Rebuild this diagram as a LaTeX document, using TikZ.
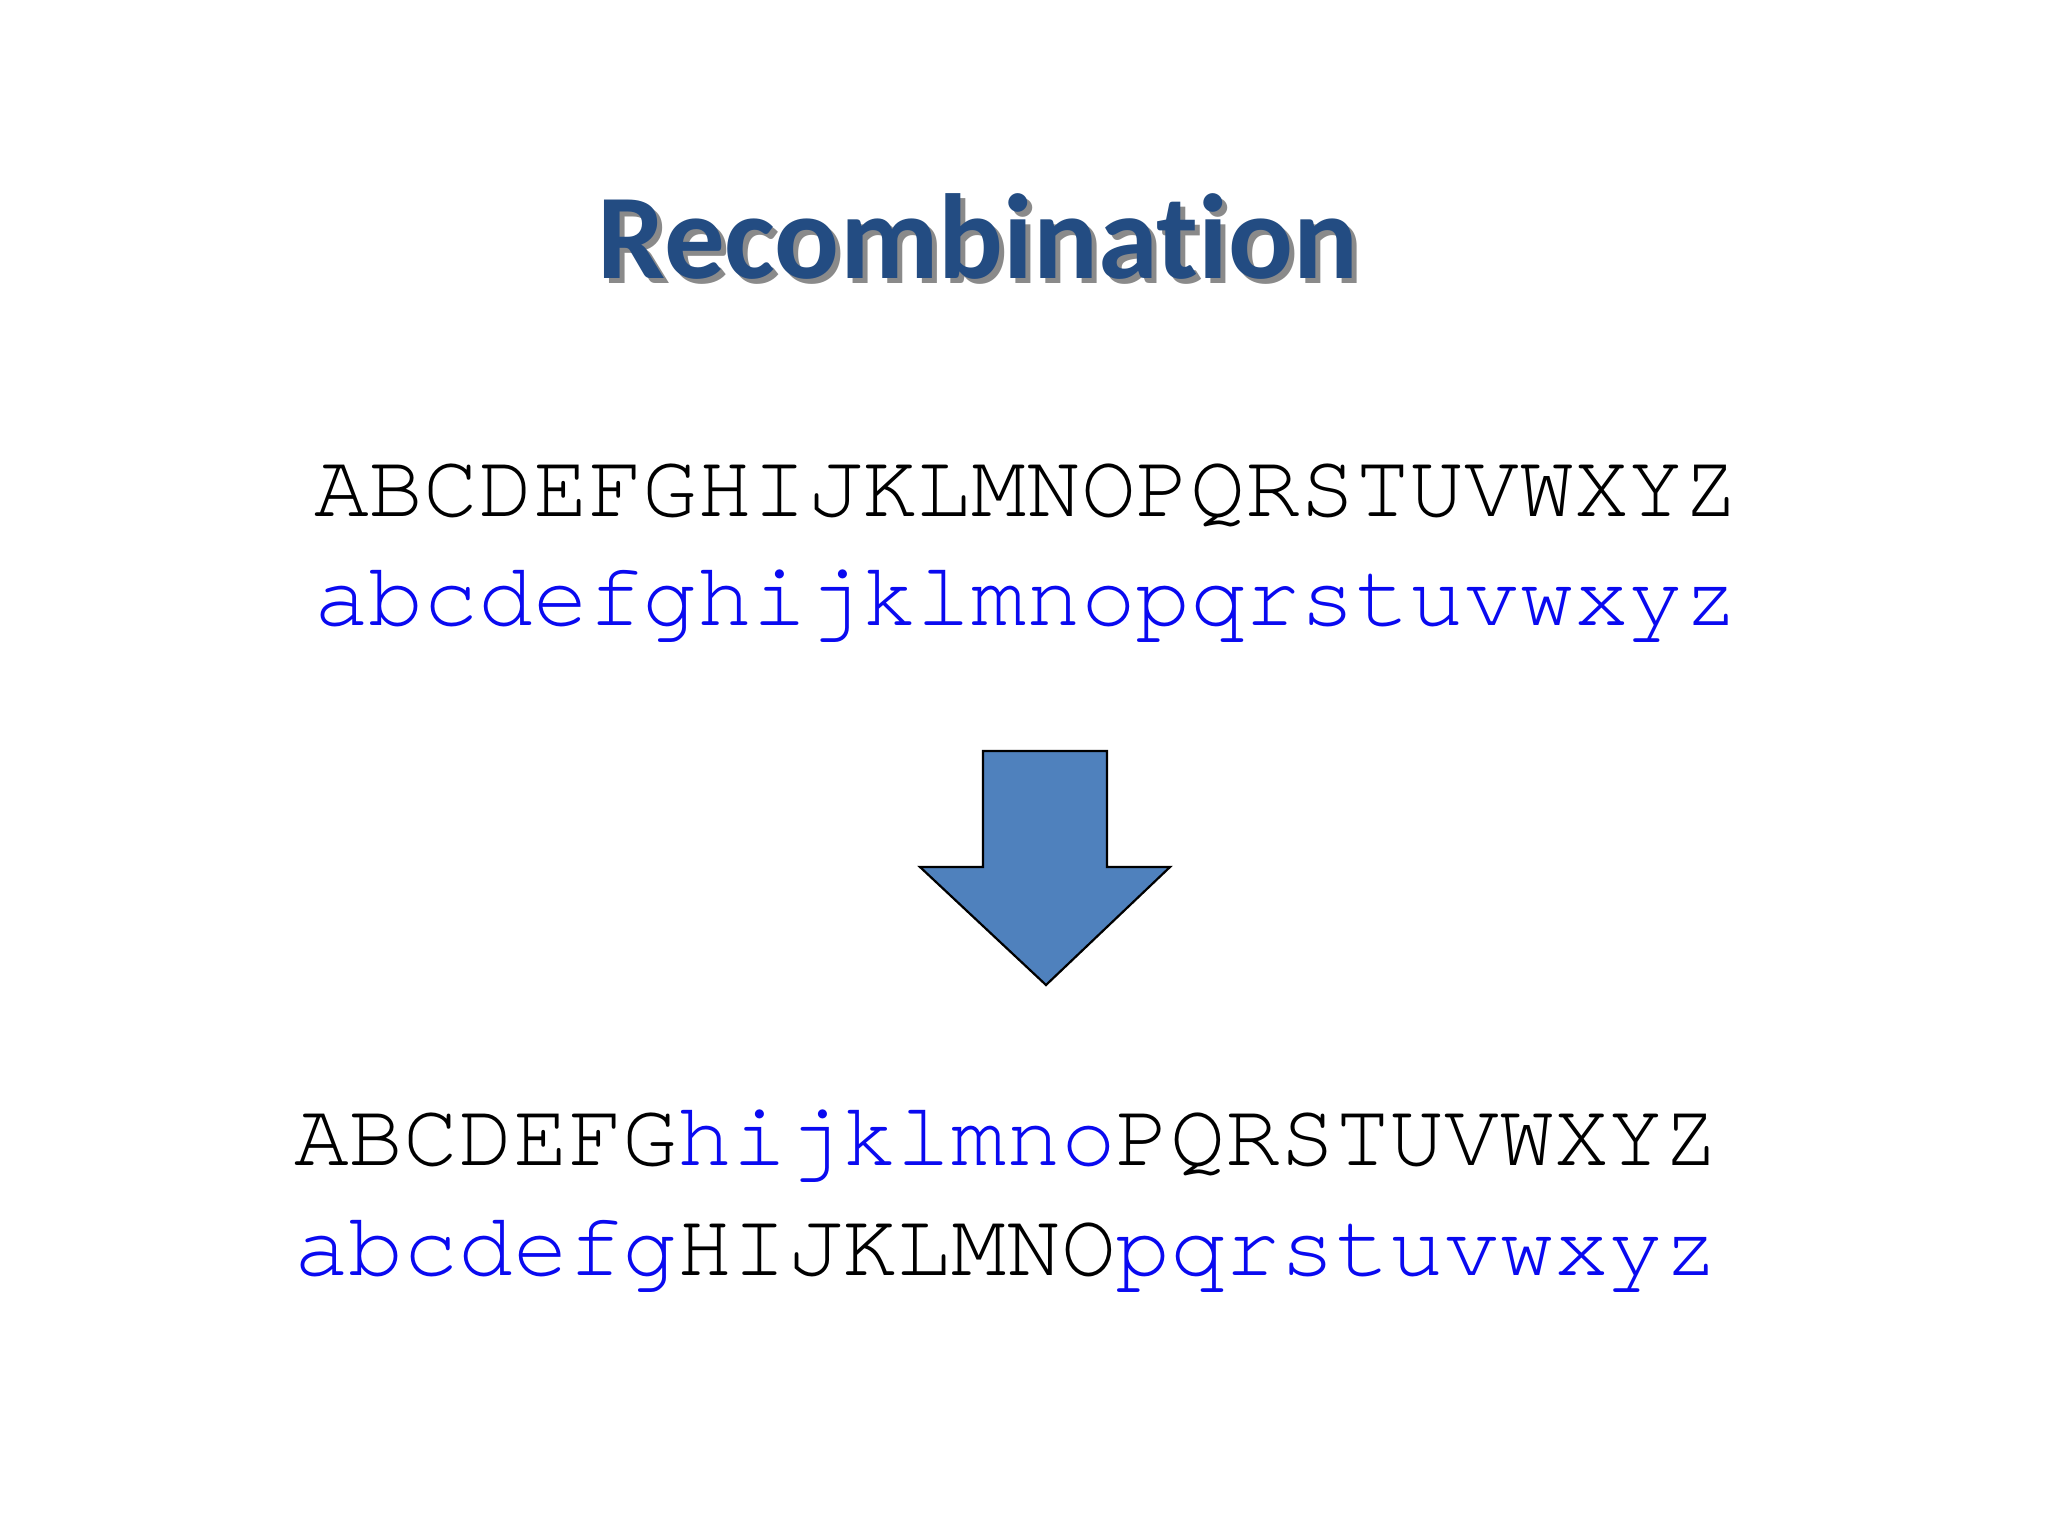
\documentclass[tikz,border=0pt]{standalone}
\usepackage{fontspec}
\setmainfont{Carlito}[RawFeature=-liga]
\newfontfamily\cour{TeX Gyre Cursor}
\definecolor{titleblue}{HTML}{234C82}
\definecolor{shadowgray}{HTML}{8A8A8A}
\definecolor{arrowblue}{HTML}{4F81BD}
\definecolor{letterblue}{HTML}{0A0AF0}
\newcommand{\recword}{Recombinat\kern0pt ion}
\begin{document}
\begin{tikzpicture}[x=1pt,y=-1pt,
  mono/.style={inner sep=0pt,anchor=base west,font=\cour\fontsize{91.3}{91.3}\selectfont},
  titlestyle/.style={inner sep=0pt,anchor=base,font=\bfseries\fontsize{121}{121}\selectfont}]
\useasboundingbox[fill=white] (0,0) rectangle (2048,1536);
\node[titlestyle,text=titleblue] (title) at (978,278)
  {\makebox[0pt][l]{\hspace{5pt}\raisebox{-5pt}{\textcolor{shadowgray}{\recword}}}\recword};
\node[mono] (r1) at (314,516) {ABCDEFGHIJKLMNOPQRSTUVWXYZ};
\node[mono,text=letterblue] (r2) at (314,625) {abcdefghijklmnopqrstuvwxyz};
\draw[fill=arrowblue,line width=2.2pt,line join=miter] (983,751) -- (1107,751) -- (1107,867) -- (1170,867) -- (1046,985) -- (920,867) -- (983,867) -- cycle;
\node[mono] (r3) at (294,1165) {ABCDEFG\textcolor{letterblue}{hijklmno}PQRSTUVWXYZ};
\node[mono,text=letterblue] (r4) at (294,1275) {abcdefg\textcolor{black}{HIJKLMNO}pqrstuvwxyz};
\end{tikzpicture}
\end{document}
